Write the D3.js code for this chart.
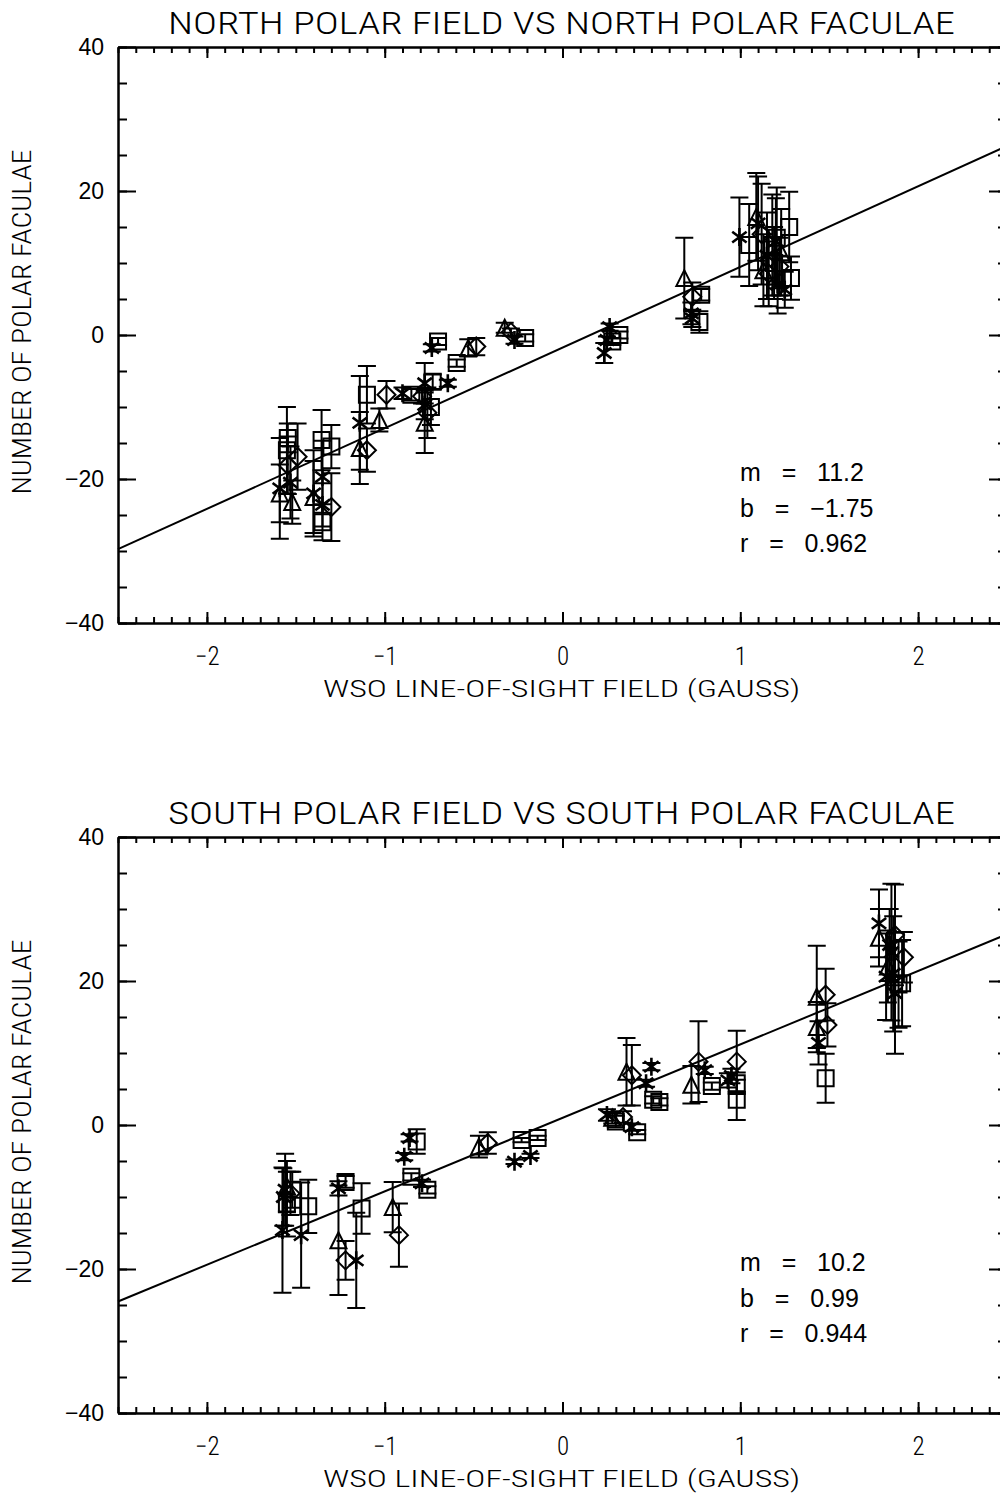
<!DOCTYPE html>
<html lang="en">
<head>
  <meta charset="UTF-8">
  <title>Polar field vs polar faculae</title>
  <script src="https://d3js.org/d3.v7.min.js"></script>
  <style>
    body { margin: 0; background: #fff; }
    svg { display: block; }
    .axis path, .axis line { stroke: #000; stroke-width: 2; }
    .ytick { font-family: 'Liberation Sans', Arial, sans-serif; font-size: 23px; }
    .narrow { font-family: 'Liberation Sans Narrow', 'Roboto Condensed', Roboto, 'DejaVu Sans', sans-serif; font-weight: 300; }
    .fit { font-family: 'Liberation Sans', Arial, sans-serif; font-size: 25px; }
  </style>
</head>
<body>
<div id="chart"></div>
<script>
// panel texts
const titles = ["NORTH POLAR FIELD VS NORTH POLAR FACULAE", "SOUTH POLAR FIELD VS SOUTH POLAR FACULAE"];
const xLabel = "WSO LINE-OF-SIGHT FIELD (GAUSS)";
const yLabel = "NUMBER OF POLAR FACULAE";

// fit results
const fitSlope = [11.2, 10.2];
const fitIntercept = [-1.75, 0.99];
const fitR = [0.962, 0.944];
const fitText = [["11.2", "\u22121.75", "0.962"], ["10.2", "0.99", "0.944"]];

// ticks
const xMajor = [-2, -1, 0, 1, 2];
const xMinor = d3.range(-25, 26).map(i => i / 10);
const yMajor = [-40, -20, 0, 20, 40];
const yMinor = d3.range(-40, 41, 5);

// [field, faculae, error, symbol]
const northPoints = [
  [-1.59, -21.3, 7.0, "ast"], [-1.59, -22.0, 4.0, "tri"], [-1.52, -23.2, 3.0, "tri"],
  [-1.53, -20.5, 5.0, "ast"], [-1.545, -14.3, 2.0, "sq"], [-1.55, -16.0, 6.0, "sq"],
  [-1.49, -16.9, 4.6, "dia"], [-1.545, -18.1, 4.0, "dia"],
  [-1.355, -14.6, 4.2, "sq"], [-1.30, -15.5, 3.0, "sq"], [-1.35, -19.7, 5.0, "ast"],
  [-1.40, -22.0, 6.0, "ast"], [-1.40, -22.5, 5.0, "tri"], [-1.30, -23.9, 4.7, "dia"],
  [-1.35, -23.6, 3.0, "ast"], [-1.35, -26.0, 2.5, "sq"],
  [-1.14, -12.2, 6.5, "ast"], [-1.10, -8.3, 4.0, "sq"], [-1.14, -15.7, 5.0, "tri"],
  [-1.10, -16.0, 3.0, "dia"], [-1.03, -11.8, 1.6, "tri"], [-0.99, -8.3, 1.9, "dia"],
  [-0.90, -8.1, 0.8, "ast"], [-0.85, -8.3, 0.8, "sq"],
  [-0.775, -6.7, 2.8, "ast"], [-0.73, -6.5, 1.0, "sq"], [-0.79, -8.5, 1.0, "dia"],
  [-0.775, -9.7, 2.0, "ast"], [-0.74, -10.0, 2.5, "sq"], [-0.775, -12.2, 4.2, "tri"],
  [-0.76, -10.8, 3.5, "dia"], [-0.735, -1.8, 0.5, "ast"], [-0.70, -0.9, 0.5, "sq"],
  [-0.595, -3.9, 0.5, "sq"], [-0.645, -6.7, 0.5, "ast"], [-0.53, -1.8, 1.2, "tri"],
  [-0.485, -1.6, 1.2, "dia"], [-0.325, 1.0, 0.7, "tri"], [-0.29, 0.4, 0.5, "dia"],
  [-0.27, -0.7, 0.5, "ast"], [-0.21, -0.4, 0.5, "sq"],
  [0.265, 1.1, 0.5, "ast"], [0.32, 0.0, 0.5, "sq"], [0.25, -0.7, 0.5, "ast"],
  [0.28, -0.9, 0.5, "sq"], [0.235, -2.5, 1.4, "ast"],
  [0.685, 7.9, 5.6, "tri"], [0.73, 5.3, 2.0, "dia"], [0.78, 5.6, 0.8, "sq"],
  [0.725, 3.0, 1.5, "ast"], [0.77, 1.8, 1.5, "sq"], [0.73, 2.3, 1.2, "ast"],
  [0.995, 13.6, 5.5, "ast"], [1.05, 12.5, 5.7, "sq"], [1.09, 16.4, 6.1, "tri"],
  [1.10, 15.5, 6.5, "ast"], [1.12, 14.0, 7.0, "dia"], [1.13, 9.0, 5.0, "tri"],
  [1.15, 11.0, 6.0, "ast"], [1.16, 8.5, 4.5, "dia"], [1.18, 12.5, 7.0, "sq"],
  [1.20, 13.0, 6.0, "ast"], [1.19, 10.0, 5.0, "sq"], [1.21, 7.0, 4.0, "ast"],
  [1.22, 9.5, 4.0, "dia"], [1.23, 11.5, 6.0, "tri"], [1.275, 15.0, 4.9, "sq"],
  [1.285, 7.9, 3.0, "sq"], [1.25, 6.3, 2.5, "ast"], [1.205, 13.5, 7.0, "sq"]
];

const southPoints = [
  [-1.575, -14.6, 8.7, "ast"], [-1.47, -15.3, 7.3, "ast"], [-1.56, -9.0, 5.0, "ast"],
  [-1.57, -10.0, 4.0, "ast"], [-1.55, -8.5, 3.5, "tri"], [-1.53, -9.5, 3.0, "dia"],
  [-1.52, -9.0, 2.5, "sq"], [-1.55, -11.0, 4.5, "sq"], [-1.43, -11.3, 3.7, "sq"],
  [-1.26, -8.8, 1.0, "ast"], [-1.22, -7.9, 0.8, "sq"], [-1.26, -16.0, 7.6, "tri"],
  [-1.22, -18.8, 2.7, "dia"], [-1.16, -18.8, 6.6, "ast"], [-1.13, -11.6, 3.5, "sq"],
  [-0.955, -11.4, 3.5, "tri"], [-0.92, -15.3, 4.4, "dia"], [-0.89, -4.4, 0.5, "ast"],
  [-0.86, -1.8, 0.5, "ast"], [-0.82, -2.3, 1.7, "sq"], [-0.85, -7.2, 0.5, "sq"],
  [-0.79, -8.1, 0.5, "ast"], [-0.76, -9.0, 0.5, "sq"], [-0.47, -3.0, 1.5, "tri"],
  [-0.42, -2.5, 1.5, "dia"], [-0.23, -2.1, 0.3, "sq"], [-0.14, -1.8, 0.3, "sq"],
  [-0.27, -5.1, 0.3, "ast"], [-0.18, -4.3, 0.3, "ast"],
  [0.25, 1.4, 0.8, "ast"], [0.28, 1.0, 0.8, "tri"], [0.34, 1.1, 0.8, "dia"],
  [0.39, -0.3, 0.5, "ast"], [0.42, -1.0, 0.3, "sq"], [0.30, 0.5, 0.8, "sq"],
  [0.36, 7.4, 4.7, "tri"], [0.39, 6.9, 4.2, "dia"], [0.50, 8.1, 0.5, "ast"],
  [0.47, 5.8, 0.5, "ast"], [0.51, 3.5, 0.5, "sq"], [0.545, 3.2, 0.5, "sq"],
  [0.725, 5.6, 2.6, "tri"], [0.765, 8.8, 5.6, "dia"], [0.80, 7.6, 0.5, "ast"],
  [0.84, 5.4, 0.5, "sq"], [0.93, 6.2, 1.0, "ast"], [0.95, 6.8, 1.0, "ast"],
  [0.98, 8.8, 4.3, "dia"], [0.98, 5.8, 1.5, "sq"], [0.98, 3.5, 2.8, "sq"],
  [1.43, 17.8, 7.1, "tri"], [1.48, 18.1, 3.6, "dia"], [1.43, 13.6, 3.5, "tri"],
  [1.49, 13.9, 3.0, "dia"], [1.44, 11.4, 3.0, "ast"], [1.48, 6.5, 3.4, "sq"],
  [1.78, 28.0, 4.7, "ast"], [1.78, 26.0, 4.0, "tri"], [1.87, 26.4, 7.0, "dia"],
  [1.92, 23.3, 3.5, "dia"], [1.91, 19.7, 6.0, "sq"], [1.87, 18.3, 8.4, "ast"],
  [1.82, 20.6, 6.0, "ast"], [1.85, 24.0, 9.5, "ast"], [1.83, 22.0, 5.0, "tri"],
  [1.86, 21.0, 8.0, "ast"], [1.89, 19.5, 6.0, "sq"], [1.84, 25.0, 5.0, "ast"]
];

const panelPoints = [northPoints, southPoints];

const width = 1000, height = 1493;
const panelTop = [47, 837], panelBottom = [623, 1413];

const svg = d3.select("#chart").append("svg")
  .attr("width", width).attr("height", height);

const x = d3.scaleLinear().domain([-2.5, 2.5]).range([118, 1007]);

const s = 8;   // symbol half size
const a = 9;   // asterisk arm
const cap = 9; // error bar half cap width
const symbolPath = {
  sq: `M${-s},${-s}H${s}V${s}H${-s}Z`,
  dia: `M0,${-s - 1}L${s + 1},0L0,${s + 1}L${-s - 1},0Z`,
  tri: `M${-s},${s}L0,${-s}L${s},${s}Z`,
  ast: `M0,${-a}V${a}M${-a * 0.8},${-a * 0.6}L${a * 0.8},${a * 0.6}M${-a * 0.8},${a * 0.6}L${a * 0.8},${-a * 0.6}`
};
const fmt = d => d < 0 ? "\u2212" + Math.abs(d) : String(d);
const sp = "\u00a0\u00a0\u00a0";

panelPoints.forEach((points, p) => {
  const top = panelTop[p], bottom = panelBottom[p];
  const y = d3.scaleLinear().domain([-40, 40]).range([bottom, top]);
  const g = svg.append("g");
  const left = x.range()[0], right = x.range()[1];

  // axes: minor then major, on all four sides
  g.append("g").attr("class", "axis").attr("transform", `translate(0,${bottom})`)
    .call(d3.axisBottom(x).tickValues(xMinor).tickSize(-6).tickSizeOuter(0).tickFormat(""));
  const xb = g.append("g").attr("class", "axis").attr("transform", `translate(0,${bottom})`)
    .call(d3.axisBottom(x).tickValues(xMajor).tickSize(-11).tickSizeOuter(0).tickPadding(24).tickFormat(fmt));
  xb.attr("font-size", null).attr("font-family", null);
  xb.selectAll("text").attr("class", "narrow").style("font-size", "25px").attr("fill", "#000");

  g.append("g").attr("class", "axis").attr("transform", `translate(0,${top})`)
    .call(d3.axisTop(x).tickValues(xMinor).tickSize(-6).tickSizeOuter(0).tickFormat(""));
  g.append("g").attr("class", "axis").attr("transform", `translate(0,${top})`)
    .call(d3.axisTop(x).tickValues(xMajor).tickSize(-11).tickSizeOuter(0).tickFormat(""));

  g.append("g").attr("class", "axis").attr("transform", `translate(${left},0)`)
    .call(d3.axisLeft(y).tickValues(yMinor).tickSize(-9).tickSizeOuter(0).tickFormat(""));
  const yl = g.append("g").attr("class", "axis").attr("transform", `translate(${left},0)`)
    .call(d3.axisLeft(y).tickValues(yMajor).tickSize(-18).tickSizeOuter(0).tickPadding(14).tickFormat(fmt));
  yl.attr("font-size", null).attr("font-family", null);
  yl.selectAll("text").attr("class", "ytick").attr("fill", "#000");

  g.append("g").attr("class", "axis").attr("transform", `translate(${right},0)`)
    .call(d3.axisRight(y).tickValues(yMinor).tickSize(-9).tickSizeOuter(0).tickFormat(""));
  g.append("g").attr("class", "axis").attr("transform", `translate(${right},0)`)
    .call(d3.axisRight(y).tickValues(yMajor).tickSize(-18).tickSizeOuter(0).tickFormat(""));

  // title and axis labels
  g.append("text").attr("class", "narrow")
    .attr("x", 561.5).attr("y", top - 13)
    .attr("text-anchor", "middle").style("font-size", "32px")
    .attr("textLength", 787).attr("lengthAdjust", "spacingAndGlyphs")
    .text(titles[p]);
  g.append("text").attr("class", "narrow")
    .attr("x", 561.5).attr("y", bottom + 74)
    .attr("text-anchor", "middle").style("font-size", "24px")
    .attr("textLength", 477).attr("lengthAdjust", "spacingAndGlyphs")
    .text(xLabel);
  g.append("text").attr("class", "narrow")
    .attr("transform", `translate(31,${(top + bottom) / 2 - 13}) rotate(-90)`)
    .attr("text-anchor", "middle").style("font-size", "25px")
    .attr("textLength", 345).attr("lengthAdjust", "spacingAndGlyphs")
    .text(yLabel);

  // fit line
  const line = d3.line().x(d => x(d)).y(d => y(fitSlope[p] * d + fitIntercept[p]));
  g.append("path").datum(x.domain())
    .attr("d", line).attr("fill", "none").attr("stroke", "#000").attr("stroke-width", 2);

  // error bars
  const eb = g.append("g").attr("stroke", "#000").attr("stroke-width", 2).attr("fill", "none");
  eb.selectAll("path").data(points).join("path")
    .attr("d", d => {
      const cx = x(d[0]), y0 = y(d[1] - d[2]), y1 = y(d[1] + d[2]);
      return `M${cx},${y0}V${y1}M${cx - cap},${y0}H${cx + cap}M${cx - cap},${y1}H${cx + cap}`;
    });

  // symbols
  g.append("g").attr("stroke", "#000").attr("stroke-width", 2).attr("fill", "none")
    .selectAll("path").data(points).join("path")
    .attr("transform", d => `translate(${x(d[0])},${y(d[1])})`)
    .attr("d", d => symbolPath[d[3]])
    .attr("stroke-width", d => d[3] === "ast" ? 2.6 : 2);

  // fit parameters
  const ft = g.append("g").attr("class", "fit");
  ["m", "b", "r"].forEach((k, i) => {
    ft.append("text").attr("x", 740).attr("y", top + 434 + i * 35.5)
      .text(k + sp + "=" + sp + fitText[p][i]);
  });
});
</script>
</body>
</html>
